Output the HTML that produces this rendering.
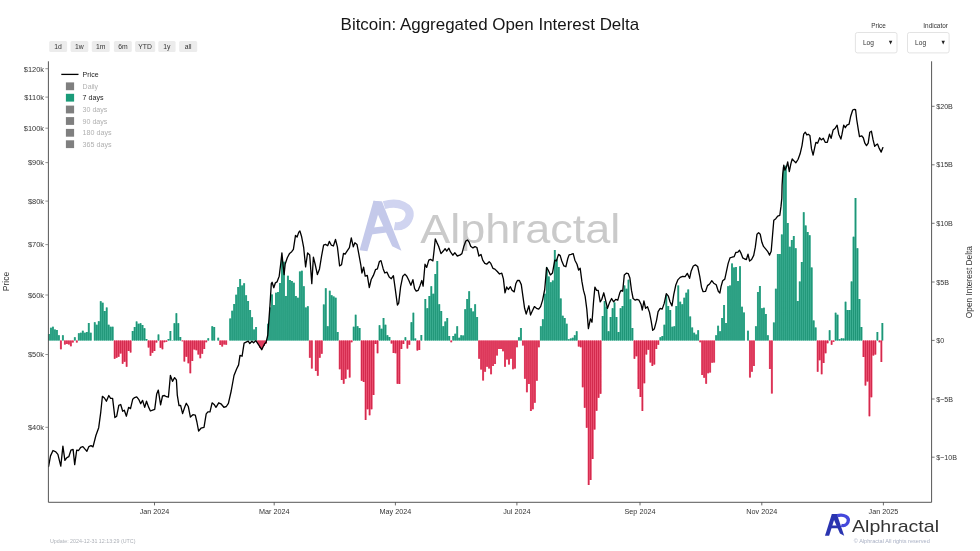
<!DOCTYPE html><html><head><meta charset="utf-8"><title>Bitcoin: Aggregated Open Interest Delta</title>
<style>html,body{margin:0;padding:0;background:#fff;}svg{display:block}text{font-family:"Liberation Sans",sans-serif}</style></head><body>
<div style="width:980px;height:551px;will-change:transform;opacity:0.999">
<svg width="980" height="551" viewBox="0 0 980 551">
<text x="340.6" y="30.4" font-size="17" fill="#161616" textLength="298.6" lengthAdjust="spacingAndGlyphs">Bitcoin: Aggregated Open Interest Delta</text>
<rect x="49.2" y="40.9" width="17.9" height="11" rx="1.5" fill="#ececec"/>
<text transform="translate(58.1 48.7) scale(0.91 1)" font-size="7.5" fill="#333" text-anchor="middle">1d</text>
<rect x="70.6" y="40.9" width="17.7" height="11" rx="1.5" fill="#ececec"/>
<text transform="translate(79.4 48.7) scale(0.91 1)" font-size="7.5" fill="#333" text-anchor="middle">1w</text>
<rect x="91.8" y="40.9" width="17.9" height="11" rx="1.5" fill="#ececec"/>
<text transform="translate(100.8 48.7) scale(0.91 1)" font-size="7.5" fill="#333" text-anchor="middle">1m</text>
<rect x="113.9" y="40.9" width="17.9" height="11" rx="1.5" fill="#ececec"/>
<text transform="translate(122.9 48.7) scale(0.91 1)" font-size="7.5" fill="#333" text-anchor="middle">6m</text>
<rect x="135.1" y="40.9" width="20.1" height="11" rx="1.5" fill="#ececec"/>
<text transform="translate(145.1 48.7) scale(0.91 1)" font-size="7.5" fill="#333" text-anchor="middle">YTD</text>
<rect x="158.3" y="40.9" width="17.3" height="11" rx="1.5" fill="#ececec"/>
<text transform="translate(166.9 48.7) scale(0.91 1)" font-size="7.5" fill="#333" text-anchor="middle">1y</text>
<rect x="179.2" y="40.9" width="18.0" height="11" rx="1.5" fill="#ececec"/>
<text transform="translate(188.2 48.7) scale(0.91 1)" font-size="7.5" fill="#333" text-anchor="middle">all</text>
<text x="878.6" y="27.6" font-size="6.4" fill="#333" text-anchor="middle">Price</text>
<text x="935.6" y="27.6" font-size="6.4" fill="#333" text-anchor="middle">Indicator</text>
<rect x="855.4" y="32.5" width="41.6" height="20.4" rx="2" fill="#fff" stroke="#dcdcdc" stroke-width="0.8"/>
<text x="862.9" y="44.9" font-size="6.6" fill="#333">Log</text>
<path d="M888.9 40.8h3.4l-1.7 3.6z" fill="#222"/>
<rect x="907.5" y="32.5" width="41.6" height="20.4" rx="2" fill="#fff" stroke="#dcdcdc" stroke-width="0.8"/>
<text x="915.1" y="44.9" font-size="6.6" fill="#333">Log</text>
<path d="M941.5 40.8h3.4l-1.7 3.6z" fill="#222"/>
<g transform="translate(350 190) scale(0.127)"><path d="M268 120C380 84 492 132 466 215C446 275 400 292 350 284" stroke="#d0d4f0" stroke-width="64" fill="none"/><path d="M75 475L137 482L250 92L185 85Z" fill="#c4c9ea"/><path d="M185 85L252 90L405 478L332 442L212 175Z" fill="#c4c9ea"/><path d="M168 298L268 285L288 335L150 352Z" fill="#c4c9ea"/></g>
<text x="420.3" y="242.8" font-size="40.5" fill="#cacaca" textLength="200" lengthAdjust="spacingAndGlyphs">Alphractal</text>
<path d="M47.95 333.98h1.99v6.62h-1.99zM49.95 327.78h1.99v12.82h-1.99zM51.94 326.63h1.99v13.97h-1.99zM53.93 329.41h1.99v11.19h-1.99zM55.92 329.90h1.99v10.70h-1.99zM57.91 335.29h1.99v5.31h-1.99zM61.90 335.29h1.99v5.31h-1.99zM73.84 337.24h1.99v3.36h-1.99zM77.83 333.33h1.99v7.27h-1.99zM79.82 332.84h1.99v7.76h-1.99zM81.81 330.71h1.99v9.89h-1.99zM83.80 332.84h1.99v7.76h-1.99zM85.79 332.02h1.99v8.58h-1.99zM87.78 323.04h1.99v17.56h-1.99zM89.78 332.67h1.99v7.93h-1.99zM93.76 322.22h1.99v18.38h-1.99zM95.75 324.67h1.99v15.93h-1.99zM97.74 321.24h1.99v19.36h-1.99zM99.73 301.33h1.99v39.27h-1.99zM101.73 302.63h1.99v37.97h-1.99zM103.72 311.12h1.99v29.48h-1.99zM105.71 307.53h1.99v33.07h-1.99zM107.70 324.67h1.99v15.93h-1.99zM109.69 326.63h1.99v13.97h-1.99zM111.68 326.63h1.99v13.97h-1.99zM131.60 331.04h1.99v9.56h-1.99zM133.59 327.12h1.99v13.48h-1.99zM135.58 321.41h1.99v19.19h-1.99zM137.57 323.69h1.99v16.91h-1.99zM139.56 323.37h1.99v17.23h-1.99zM141.56 325.00h1.99v15.60h-1.99zM143.55 328.27h1.99v12.33h-1.99zM145.54 338.88h1.99v1.72h-1.99zM157.49 334.47h1.99v6.13h-1.99zM167.44 338.88h1.99v1.72h-1.99zM169.44 331.04h1.99v9.56h-1.99zM171.43 340.18h1.99v0.42h-1.99zM173.42 323.37h1.99v17.23h-1.99zM175.41 313.24h1.99v27.36h-1.99zM177.40 323.37h1.99v17.23h-1.99zM179.39 336.92h1.99v3.68h-1.99zM207.27 338.20h1.99v2.40h-1.99zM211.26 326.29h1.99v14.31h-1.99zM213.25 327.10h1.99v13.50h-1.99zM217.23 337.71h1.99v2.89h-1.99zM229.18 318.61h1.99v21.99h-1.99zM231.17 310.78h1.99v29.82h-1.99zM233.16 303.92h1.99v36.68h-1.99zM235.16 294.78h1.99v45.82h-1.99zM237.15 287.10h1.99v53.50h-1.99zM239.14 278.94h1.99v61.66h-1.99zM241.13 285.47h1.99v55.13h-1.99zM243.12 283.35h1.99v57.25h-1.99zM245.11 295.27h1.99v45.33h-1.99zM247.10 300.98h1.99v39.62h-1.99zM249.10 309.96h1.99v30.64h-1.99zM251.09 317.31h1.99v23.29h-1.99zM253.08 329.55h1.99v11.05h-1.99zM255.07 327.10h1.99v13.50h-1.99zM267.02 323.84h1.99v16.76h-1.99zM269.01 307.51h1.99v33.09h-1.99zM271.00 294.45h1.99v46.15h-1.99zM272.99 305.06h1.99v35.54h-1.99zM274.99 292.82h1.99v47.78h-1.99zM276.98 292.00h1.99v48.60h-1.99zM278.97 283.02h1.99v57.58h-1.99zM280.96 259.35h1.99v81.25h-1.99zM282.95 261.80h1.99v78.80h-1.99zM284.94 296.08h1.99v44.52h-1.99zM286.93 275.67h1.99v64.93h-1.99zM288.93 280.08h1.99v60.52h-1.99zM290.92 281.06h1.99v59.54h-1.99zM292.91 282.69h1.99v57.91h-1.99zM294.90 296.08h1.99v44.52h-1.99zM296.89 297.71h1.99v42.89h-1.99zM298.88 271.59h1.99v69.01h-1.99zM300.88 270.78h1.99v69.82h-1.99zM302.87 286.29h1.99v54.31h-1.99zM304.86 307.51h1.99v33.09h-1.99zM306.85 306.20h1.99v34.40h-1.99zM322.78 304.57h1.99v36.03h-1.99zM324.77 288.24h1.99v52.36h-1.99zM326.76 326.29h1.99v14.31h-1.99zM328.76 290.86h1.99v49.74h-1.99zM330.75 295.27h1.99v45.33h-1.99zM332.74 296.41h1.99v44.19h-1.99zM334.73 297.71h1.99v42.89h-1.99zM336.72 332.00h1.99v8.60h-1.99zM352.65 326.78h1.99v13.82h-1.99zM354.65 314.86h1.99v25.74h-1.99zM356.64 326.29h1.99v14.31h-1.99zM358.63 327.92h1.99v12.68h-1.99zM378.54 325.14h1.99v15.46h-1.99zM380.54 328.73h1.99v11.87h-1.99zM382.53 318.12h1.99v22.48h-1.99zM384.52 324.65h1.99v15.95h-1.99zM386.51 335.27h1.99v5.33h-1.99zM388.50 336.90h1.99v3.70h-1.99zM404.43 337.22h1.99v3.38h-1.99zM410.41 322.20h1.99v18.40h-1.99zM412.40 312.73h1.99v27.87h-1.99zM414.39 338.53h1.99v2.07h-1.99zM420.37 334.94h1.99v5.66h-1.99zM424.35 299.02h1.99v41.58h-1.99zM426.34 308.33h1.99v32.27h-1.99zM428.33 296.08h1.99v44.52h-1.99zM430.32 286.29h1.99v54.31h-1.99zM432.31 293.63h1.99v46.97h-1.99zM434.31 274.04h1.99v66.56h-1.99zM436.30 260.98h1.99v79.62h-1.99zM438.29 304.24h1.99v36.36h-1.99zM440.28 311.10h1.99v29.50h-1.99zM442.27 326.29h1.99v14.31h-1.99zM444.26 321.39h1.99v19.21h-1.99zM446.25 318.12h1.99v22.48h-1.99zM448.25 336.08h1.99v4.52h-1.99zM452.23 336.08h1.99v4.52h-1.99zM454.22 333.63h1.99v6.97h-1.99zM456.21 326.29h1.99v14.31h-1.99zM458.20 337.71h1.99v2.89h-1.99zM460.20 335.27h1.99v5.33h-1.99zM462.19 335.59h1.99v5.01h-1.99zM464.18 309.14h1.99v31.46h-1.99zM466.17 299.02h1.99v41.58h-1.99zM468.16 291.18h1.99v49.42h-1.99zM470.15 308.33h1.99v32.27h-1.99zM472.14 311.59h1.99v29.01h-1.99zM474.14 304.24h1.99v36.36h-1.99zM476.13 316.98h1.99v23.62h-1.99zM517.95 337.22h1.99v3.38h-1.99zM519.94 327.92h1.99v12.68h-1.99zM539.86 326.29h1.99v14.31h-1.99zM541.85 319.27h1.99v21.33h-1.99zM543.84 293.63h1.99v46.97h-1.99zM545.83 267.51h1.99v73.09h-1.99zM547.82 276.49h1.99v64.11h-1.99zM549.81 282.20h1.99v58.40h-1.99zM551.80 280.57h1.99v60.03h-1.99zM553.80 250.04h1.99v90.56h-1.99zM555.79 259.35h1.99v81.25h-1.99zM557.78 267.02h1.99v73.58h-1.99zM559.77 298.53h1.99v42.07h-1.99zM561.76 315.67h1.99v24.93h-1.99zM563.75 318.12h1.99v22.48h-1.99zM565.74 323.84h1.99v16.76h-1.99zM567.74 339.35h1.99v1.25h-1.99zM569.73 338.53h1.99v2.07h-1.99zM571.72 337.71h1.99v2.89h-1.99zM573.71 335.27h1.99v5.33h-1.99zM575.70 331.18h1.99v9.42h-1.99zM601.59 316.00h1.99v24.60h-1.99zM603.58 300.98h1.99v39.62h-1.99zM605.57 306.69h1.99v33.91h-1.99zM607.57 331.18h1.99v9.42h-1.99zM609.56 316.98h1.99v23.62h-1.99zM611.55 308.33h1.99v32.27h-1.99zM613.54 302.61h1.99v37.99h-1.99zM615.53 316.98h1.99v23.62h-1.99zM617.52 332.00h1.99v8.60h-1.99zM619.52 308.33h1.99v32.27h-1.99zM621.51 305.88h1.99v34.72h-1.99zM623.50 285.47h1.99v55.13h-1.99zM625.49 288.73h1.99v51.87h-1.99zM627.48 279.76h1.99v60.84h-1.99zM629.47 299.35h1.99v41.25h-1.99zM631.46 327.92h1.99v12.68h-1.99zM659.35 337.22h1.99v3.38h-1.99zM661.34 336.08h1.99v4.52h-1.99zM663.33 324.65h1.99v15.95h-1.99zM665.32 295.27h1.99v45.33h-1.99zM667.31 305.88h1.99v34.72h-1.99zM669.30 309.96h1.99v30.64h-1.99zM671.29 326.78h1.99v13.82h-1.99zM673.29 326.29h1.99v14.31h-1.99zM675.28 305.88h1.99v34.72h-1.99zM677.27 285.47h1.99v55.13h-1.99zM679.26 301.80h1.99v38.80h-1.99zM681.25 304.24h1.99v36.36h-1.99zM683.24 297.71h1.99v42.89h-1.99zM685.23 292.82h1.99v47.78h-1.99zM687.23 289.55h1.99v51.05h-1.99zM689.22 316.49h1.99v24.11h-1.99zM691.21 327.43h1.99v13.17h-1.99zM693.20 332.82h1.99v7.78h-1.99zM695.19 334.45h1.99v6.15h-1.99zM697.18 330.37h1.99v10.23h-1.99zM715.11 335.27h1.99v5.33h-1.99zM717.10 325.80h1.99v14.80h-1.99zM719.09 331.18h1.99v9.42h-1.99zM721.08 318.12h1.99v22.48h-1.99zM723.07 305.06h1.99v35.54h-1.99zM725.06 323.02h1.99v17.58h-1.99zM727.06 286.29h1.99v54.31h-1.99zM729.05 285.47h1.99v55.13h-1.99zM731.04 263.43h1.99v77.17h-1.99zM733.03 267.51h1.99v73.09h-1.99zM735.02 267.02h1.99v73.58h-1.99zM737.01 281.06h1.99v59.54h-1.99zM739.01 266.37h1.99v74.23h-1.99zM741.00 306.69h1.99v33.91h-1.99zM742.99 312.41h1.99v28.19h-1.99zM746.97 330.69h1.99v9.91h-1.99zM754.94 326.29h1.99v14.31h-1.99zM756.93 292.00h1.99v48.60h-1.99zM758.92 285.96h1.99v54.64h-1.99zM760.91 308.33h1.99v32.27h-1.99zM762.90 307.84h1.99v32.76h-1.99zM764.89 314.04h1.99v26.56h-1.99zM766.89 335.27h1.99v5.33h-1.99zM772.86 322.53h1.99v18.07h-1.99zM774.85 288.73h1.99v51.87h-1.99zM776.84 253.98h1.99v86.62h-1.99zM778.84 253.98h1.99v86.62h-1.99zM780.83 234.39h1.99v106.21h-1.99zM782.82 166.96h1.99v173.64h-1.99zM784.81 165.82h1.99v174.78h-1.99zM786.80 222.96h1.99v117.64h-1.99zM788.79 246.63h1.99v93.97h-1.99zM790.78 240.10h1.99v100.50h-1.99zM792.78 236.02h1.99v104.58h-1.99zM794.77 248.27h1.99v92.33h-1.99zM796.76 300.98h1.99v39.62h-1.99zM798.75 281.39h1.99v59.21h-1.99zM800.74 262.12h1.99v78.48h-1.99zM802.73 212.35h1.99v128.25h-1.99zM804.72 225.41h1.99v115.19h-1.99zM806.72 231.94h1.99v108.66h-1.99zM808.71 235.20h1.99v105.40h-1.99zM810.70 267.51h1.99v73.09h-1.99zM812.69 320.57h1.99v20.03h-1.99zM814.68 327.43h1.99v13.17h-1.99zM828.62 330.37h1.99v10.23h-1.99zM834.60 312.73h1.99v27.87h-1.99zM836.59 314.86h1.99v25.74h-1.99zM838.58 339.35h1.99v1.25h-1.99zM840.57 338.20h1.99v2.40h-1.99zM842.56 338.53h1.99v2.07h-1.99zM844.55 301.80h1.99v38.80h-1.99zM846.55 309.96h1.99v30.64h-1.99zM848.54 309.96h1.99v30.64h-1.99zM850.53 281.39h1.99v59.21h-1.99zM852.52 236.84h1.99v103.76h-1.99zM854.51 197.98h1.99v142.62h-1.99zM856.50 248.27h1.99v92.33h-1.99zM858.50 299.02h1.99v41.58h-1.99zM860.49 327.10h1.99v13.50h-1.99zM876.42 332.00h1.99v8.60h-1.99zM881.39 323.02h1.99v17.58h-1.99z" fill="#45b59a"/>
<path d="M48.35 333.98h1.20v6.62h-1.20zM50.34 327.78h1.20v12.82h-1.20zM52.33 326.63h1.20v13.97h-1.20zM54.32 329.41h1.20v11.19h-1.20zM56.32 329.90h1.20v10.70h-1.20zM58.31 335.29h1.20v5.31h-1.20zM62.29 335.29h1.20v5.31h-1.20zM74.24 337.24h1.20v3.36h-1.20zM78.22 333.33h1.20v7.27h-1.20zM80.21 332.84h1.20v7.76h-1.20zM82.21 330.71h1.20v9.89h-1.20zM84.20 332.84h1.20v7.76h-1.20zM86.19 332.02h1.20v8.58h-1.20zM88.18 323.04h1.20v17.56h-1.20zM90.17 332.67h1.20v7.93h-1.20zM94.16 322.22h1.20v18.38h-1.20zM96.15 324.67h1.20v15.93h-1.20zM98.14 321.24h1.20v19.36h-1.20zM100.13 301.33h1.20v39.27h-1.20zM102.12 302.63h1.20v37.97h-1.20zM104.11 311.12h1.20v29.48h-1.20zM106.10 307.53h1.20v33.07h-1.20zM108.10 324.67h1.20v15.93h-1.20zM110.09 326.63h1.20v13.97h-1.20zM112.08 326.63h1.20v13.97h-1.20zM131.99 331.04h1.20v9.56h-1.20zM133.99 327.12h1.20v13.48h-1.20zM135.98 321.41h1.20v19.19h-1.20zM137.97 323.69h1.20v16.91h-1.20zM139.96 323.37h1.20v17.23h-1.20zM141.95 325.00h1.20v15.60h-1.20zM143.94 328.27h1.20v12.33h-1.20zM145.93 338.88h1.20v1.72h-1.20zM157.88 334.47h1.20v6.13h-1.20zM167.84 338.88h1.20v1.72h-1.20zM169.83 331.04h1.20v9.56h-1.20zM171.82 340.18h1.20v0.42h-1.20zM173.81 323.37h1.20v17.23h-1.20zM175.81 313.24h1.20v27.36h-1.20zM177.80 323.37h1.20v17.23h-1.20zM179.79 336.92h1.20v3.68h-1.20zM207.67 338.20h1.20v2.40h-1.20zM211.65 326.29h1.20v14.31h-1.20zM213.65 327.10h1.20v13.50h-1.20zM217.63 337.71h1.20v2.89h-1.20zM229.58 318.61h1.20v21.99h-1.20zM231.57 310.78h1.20v29.82h-1.20zM233.56 303.92h1.20v36.68h-1.20zM235.55 294.78h1.20v45.82h-1.20zM237.54 287.10h1.20v53.50h-1.20zM239.53 278.94h1.20v61.66h-1.20zM241.53 285.47h1.20v55.13h-1.20zM243.52 283.35h1.20v57.25h-1.20zM245.51 295.27h1.20v45.33h-1.20zM247.50 300.98h1.20v39.62h-1.20zM249.49 309.96h1.20v30.64h-1.20zM251.48 317.31h1.20v23.29h-1.20zM253.47 329.55h1.20v11.05h-1.20zM255.47 327.10h1.20v13.50h-1.20zM267.42 323.84h1.20v16.76h-1.20zM269.41 307.51h1.20v33.09h-1.20zM271.40 294.45h1.20v46.15h-1.20zM273.39 305.06h1.20v35.54h-1.20zM275.38 292.82h1.20v47.78h-1.20zM277.37 292.00h1.20v48.60h-1.20zM279.36 283.02h1.20v57.58h-1.20zM281.36 259.35h1.20v81.25h-1.20zM283.35 261.80h1.20v78.80h-1.20zM285.34 296.08h1.20v44.52h-1.20zM287.33 275.67h1.20v64.93h-1.20zM289.32 280.08h1.20v60.52h-1.20zM291.31 281.06h1.20v59.54h-1.20zM293.30 282.69h1.20v57.91h-1.20zM295.30 296.08h1.20v44.52h-1.20zM297.29 297.71h1.20v42.89h-1.20zM299.28 271.59h1.20v69.01h-1.20zM301.27 270.78h1.20v69.82h-1.20zM303.26 286.29h1.20v54.31h-1.20zM305.25 307.51h1.20v33.09h-1.20zM307.25 306.20h1.20v34.40h-1.20zM323.18 304.57h1.20v36.03h-1.20zM325.17 288.24h1.20v52.36h-1.20zM327.16 326.29h1.20v14.31h-1.20zM329.15 290.86h1.20v49.74h-1.20zM331.14 295.27h1.20v45.33h-1.20zM333.13 296.41h1.20v44.19h-1.20zM335.13 297.71h1.20v42.89h-1.20zM337.12 332.00h1.20v8.60h-1.20zM353.05 326.78h1.20v13.82h-1.20zM355.04 314.86h1.20v25.74h-1.20zM357.03 326.29h1.20v14.31h-1.20zM359.02 327.92h1.20v12.68h-1.20zM378.94 325.14h1.20v15.46h-1.20zM380.93 328.73h1.20v11.87h-1.20zM382.92 318.12h1.20v22.48h-1.20zM384.91 324.65h1.20v15.95h-1.20zM386.91 335.27h1.20v5.33h-1.20zM388.90 336.90h1.20v3.70h-1.20zM404.83 337.22h1.20v3.38h-1.20zM410.80 322.20h1.20v18.40h-1.20zM412.79 312.73h1.20v27.87h-1.20zM414.79 338.53h1.20v2.07h-1.20zM420.76 334.94h1.20v5.66h-1.20zM424.74 299.02h1.20v41.58h-1.20zM426.74 308.33h1.20v32.27h-1.20zM428.73 296.08h1.20v44.52h-1.20zM430.72 286.29h1.20v54.31h-1.20zM432.71 293.63h1.20v46.97h-1.20zM434.70 274.04h1.20v66.56h-1.20zM436.69 260.98h1.20v79.62h-1.20zM438.68 304.24h1.20v36.36h-1.20zM440.68 311.10h1.20v29.50h-1.20zM442.67 326.29h1.20v14.31h-1.20zM444.66 321.39h1.20v19.21h-1.20zM446.65 318.12h1.20v22.48h-1.20zM448.64 336.08h1.20v4.52h-1.20zM452.62 336.08h1.20v4.52h-1.20zM454.62 333.63h1.20v6.97h-1.20zM456.61 326.29h1.20v14.31h-1.20zM458.60 337.71h1.20v2.89h-1.20zM460.59 335.27h1.20v5.33h-1.20zM462.58 335.59h1.20v5.01h-1.20zM464.57 309.14h1.20v31.46h-1.20zM466.57 299.02h1.20v41.58h-1.20zM468.56 291.18h1.20v49.42h-1.20zM470.55 308.33h1.20v32.27h-1.20zM472.54 311.59h1.20v29.01h-1.20zM474.53 304.24h1.20v36.36h-1.20zM476.52 316.98h1.20v23.62h-1.20zM518.34 337.22h1.20v3.38h-1.20zM520.34 327.92h1.20v12.68h-1.20zM540.25 326.29h1.20v14.31h-1.20zM542.24 319.27h1.20v21.33h-1.20zM544.23 293.63h1.20v46.97h-1.20zM546.23 267.51h1.20v73.09h-1.20zM548.22 276.49h1.20v64.11h-1.20zM550.21 282.20h1.20v58.40h-1.20zM552.20 280.57h1.20v60.03h-1.20zM554.19 250.04h1.20v90.56h-1.20zM556.18 259.35h1.20v81.25h-1.20zM558.17 267.02h1.20v73.58h-1.20zM560.17 298.53h1.20v42.07h-1.20zM562.16 315.67h1.20v24.93h-1.20zM564.15 318.12h1.20v22.48h-1.20zM566.14 323.84h1.20v16.76h-1.20zM568.13 339.35h1.20v1.25h-1.20zM570.12 338.53h1.20v2.07h-1.20zM572.12 337.71h1.20v2.89h-1.20zM574.11 335.27h1.20v5.33h-1.20zM576.10 331.18h1.20v9.42h-1.20zM601.99 316.00h1.20v24.60h-1.20zM603.98 300.98h1.20v39.62h-1.20zM605.97 306.69h1.20v33.91h-1.20zM607.96 331.18h1.20v9.42h-1.20zM609.95 316.98h1.20v23.62h-1.20zM611.95 308.33h1.20v32.27h-1.20zM613.94 302.61h1.20v37.99h-1.20zM615.93 316.98h1.20v23.62h-1.20zM617.92 332.00h1.20v8.60h-1.20zM619.91 308.33h1.20v32.27h-1.20zM621.90 305.88h1.20v34.72h-1.20zM623.89 285.47h1.20v55.13h-1.20zM625.89 288.73h1.20v51.87h-1.20zM627.88 279.76h1.20v60.84h-1.20zM629.87 299.35h1.20v41.25h-1.20zM631.86 327.92h1.20v12.68h-1.20zM659.74 337.22h1.20v3.38h-1.20zM661.73 336.08h1.20v4.52h-1.20zM663.72 324.65h1.20v15.95h-1.20zM665.72 295.27h1.20v45.33h-1.20zM667.71 305.88h1.20v34.72h-1.20zM669.70 309.96h1.20v30.64h-1.20zM671.69 326.78h1.20v13.82h-1.20zM673.68 326.29h1.20v14.31h-1.20zM675.67 305.88h1.20v34.72h-1.20zM677.66 285.47h1.20v55.13h-1.20zM679.66 301.80h1.20v38.80h-1.20zM681.65 304.24h1.20v36.36h-1.20zM683.64 297.71h1.20v42.89h-1.20zM685.63 292.82h1.20v47.78h-1.20zM687.62 289.55h1.20v51.05h-1.20zM689.61 316.49h1.20v24.11h-1.20zM691.61 327.43h1.20v13.17h-1.20zM693.60 332.82h1.20v7.78h-1.20zM695.59 334.45h1.20v6.15h-1.20zM697.58 330.37h1.20v10.23h-1.20zM715.50 335.27h1.20v5.33h-1.20zM717.49 325.80h1.20v14.80h-1.20zM719.49 331.18h1.20v9.42h-1.20zM721.48 318.12h1.20v22.48h-1.20zM723.47 305.06h1.20v35.54h-1.20zM725.46 323.02h1.20v17.58h-1.20zM727.45 286.29h1.20v54.31h-1.20zM729.44 285.47h1.20v55.13h-1.20zM731.43 263.43h1.20v77.17h-1.20zM733.43 267.51h1.20v73.09h-1.20zM735.42 267.02h1.20v73.58h-1.20zM737.41 281.06h1.20v59.54h-1.20zM739.40 266.37h1.20v74.23h-1.20zM741.39 306.69h1.20v33.91h-1.20zM743.38 312.41h1.20v28.19h-1.20zM747.37 330.69h1.20v9.91h-1.20zM755.33 326.29h1.20v14.31h-1.20zM757.32 292.00h1.20v48.60h-1.20zM759.32 285.96h1.20v54.64h-1.20zM761.31 308.33h1.20v32.27h-1.20zM763.30 307.84h1.20v32.76h-1.20zM765.29 314.04h1.20v26.56h-1.20zM767.28 335.27h1.20v5.33h-1.20zM773.26 322.53h1.20v18.07h-1.20zM775.25 288.73h1.20v51.87h-1.20zM777.24 253.98h1.20v86.62h-1.20zM779.23 253.98h1.20v86.62h-1.20zM781.22 234.39h1.20v106.21h-1.20zM783.21 166.96h1.20v173.64h-1.20zM785.21 165.82h1.20v174.78h-1.20zM787.20 222.96h1.20v117.64h-1.20zM789.19 246.63h1.20v93.97h-1.20zM791.18 240.10h1.20v100.50h-1.20zM793.17 236.02h1.20v104.58h-1.20zM795.16 248.27h1.20v92.33h-1.20zM797.15 300.98h1.20v39.62h-1.20zM799.15 281.39h1.20v59.21h-1.20zM801.14 262.12h1.20v78.48h-1.20zM803.13 212.35h1.20v128.25h-1.20zM805.12 225.41h1.20v115.19h-1.20zM807.11 231.94h1.20v108.66h-1.20zM809.10 235.20h1.20v105.40h-1.20zM811.10 267.51h1.20v73.09h-1.20zM813.09 320.57h1.20v20.03h-1.20zM815.08 327.43h1.20v13.17h-1.20zM829.02 330.37h1.20v10.23h-1.20zM834.99 312.73h1.20v27.87h-1.20zM836.98 314.86h1.20v25.74h-1.20zM838.98 339.35h1.20v1.25h-1.20zM840.97 338.20h1.20v2.40h-1.20zM842.96 338.53h1.20v2.07h-1.20zM844.95 301.80h1.20v38.80h-1.20zM846.94 309.96h1.20v30.64h-1.20zM848.93 309.96h1.20v30.64h-1.20zM850.92 281.39h1.20v59.21h-1.20zM852.92 236.84h1.20v103.76h-1.20zM854.91 197.98h1.20v142.62h-1.20zM856.90 248.27h1.20v92.33h-1.20zM858.89 299.02h1.20v41.58h-1.20zM860.88 327.10h1.20v13.50h-1.20zM876.81 332.00h1.20v8.60h-1.20zM881.79 323.02h1.20v17.58h-1.20z" fill="#1f9577"/>
<path d="M59.90 340.60h1.99v8.56h-1.99zM63.89 340.60h1.99v3.99h-1.99zM65.88 340.60h1.99v3.50h-1.99zM67.87 340.60h1.99v3.99h-1.99zM69.86 340.60h1.99v5.62h-1.99zM71.85 340.60h1.99v1.87h-1.99zM75.84 340.60h1.99v1.87h-1.99zM113.67 340.60h1.99v18.20h-1.99zM115.67 340.60h1.99v17.05h-1.99zM117.66 340.60h1.99v16.24h-1.99zM119.65 340.60h1.99v12.97h-1.99zM121.64 340.60h1.99v23.26h-1.99zM123.63 340.60h1.99v21.13h-1.99zM125.62 340.60h1.99v26.03h-1.99zM127.61 340.60h1.99v10.52h-1.99zM129.61 340.60h1.99v11.83h-1.99zM147.53 340.60h1.99v6.93h-1.99zM149.52 340.60h1.99v15.09h-1.99zM151.51 340.60h1.99v12.16h-1.99zM153.50 340.60h1.99v10.52h-1.99zM155.50 340.60h1.99v1.87h-1.99zM159.48 340.60h1.99v7.26h-1.99zM161.47 340.60h1.99v8.56h-1.99zM163.46 340.60h1.99v1.54h-1.99zM165.45 340.60h1.99v1.22h-1.99zM181.39 340.60h1.99v0.73h-1.99zM183.38 340.60h1.99v20.81h-1.99zM185.37 340.60h1.99v16.24h-1.99zM187.36 340.60h1.99v22.77h-1.99zM189.35 340.60h1.99v32.56h-1.99zM191.34 340.60h1.99v20.32h-1.99zM193.33 340.60h1.99v8.89h-1.99zM195.33 340.60h1.99v9.71h-1.99zM197.32 340.60h1.99v13.79h-1.99zM199.31 340.60h1.99v17.58h-1.99zM201.30 340.60h1.99v13.18h-1.99zM203.29 340.60h1.99v8.28h-1.99zM205.28 340.60h1.99v1.75h-1.99zM219.22 340.60h1.99v4.52h-1.99zM221.22 340.60h1.99v5.83h-1.99zM223.21 340.60h1.99v3.87h-1.99zM225.20 340.60h1.99v4.20h-1.99zM257.06 340.60h1.99v3.38h-1.99zM259.05 340.60h1.99v7.13h-1.99zM261.05 340.60h1.99v8.77h-1.99zM263.04 340.60h1.99v5.50h-1.99zM265.03 340.60h1.99v2.89h-1.99zM308.84 340.60h1.99v17.26h-1.99zM310.83 340.60h1.99v27.87h-1.99zM314.82 340.60h1.99v30.32h-1.99zM316.81 340.60h1.99v35.22h-1.99zM318.80 340.60h1.99v17.26h-1.99zM320.79 340.60h1.99v13.18h-1.99zM338.71 340.60h1.99v28.69h-1.99zM340.71 340.60h1.99v39.30h-1.99zM342.70 340.60h1.99v43.05h-1.99zM344.69 340.60h1.99v38.16h-1.99zM346.68 340.60h1.99v29.01h-1.99zM348.67 340.60h1.99v36.85h-1.99zM350.66 340.60h1.99v1.75h-1.99zM360.62 340.60h1.99v40.11h-1.99zM362.61 340.60h1.99v41.42h-1.99zM364.60 340.60h1.99v79.30h-1.99zM366.59 340.60h1.99v68.69h-1.99zM368.59 340.60h1.99v74.73h-1.99zM370.58 340.60h1.99v68.69h-1.99zM372.57 340.60h1.99v54.48h-1.99zM374.56 340.60h1.99v3.38h-1.99zM376.55 340.60h1.99v12.69h-1.99zM390.49 340.60h1.99v2.89h-1.99zM392.48 340.60h1.99v12.36h-1.99zM394.48 340.60h1.99v12.69h-1.99zM396.47 340.60h1.99v43.05h-1.99zM398.46 340.60h1.99v43.38h-1.99zM400.45 340.60h1.99v8.28h-1.99zM402.44 340.60h1.99v3.38h-1.99zM406.42 340.60h1.99v7.79h-1.99zM408.42 340.60h1.99v4.20h-1.99zM416.38 340.60h1.99v9.91h-1.99zM418.37 340.60h1.99v9.42h-1.99zM450.24 340.60h1.99v1.75h-1.99zM478.12 340.60h1.99v18.07h-1.99zM480.11 340.60h1.99v29.01h-1.99zM482.10 340.60h1.99v39.79h-1.99zM484.09 340.60h1.99v31.13h-1.99zM486.08 340.60h1.99v26.24h-1.99zM488.08 340.60h1.99v27.87h-1.99zM490.07 340.60h1.99v33.58h-1.99zM492.06 340.60h1.99v25.42h-1.99zM494.05 340.60h1.99v23.46h-1.99zM496.04 340.60h1.99v14.81h-1.99zM498.03 340.60h1.99v8.28h-1.99zM500.03 340.60h1.99v8.28h-1.99zM502.02 340.60h1.99v10.73h-1.99zM504.01 340.60h1.99v26.24h-1.99zM506.00 340.60h1.99v18.89h-1.99zM507.99 340.60h1.99v23.79h-1.99zM509.98 340.60h1.99v18.07h-1.99zM511.97 340.60h1.99v28.69h-1.99zM513.97 340.60h1.99v27.87h-1.99zM515.96 340.60h1.99v6.64h-1.99zM521.93 340.60h1.99v5.01h-1.99zM523.92 340.60h1.99v38.16h-1.99zM525.91 340.60h1.99v51.54h-1.99zM527.91 340.60h1.99v43.38h-1.99zM529.90 340.60h1.99v70.32h-1.99zM531.89 340.60h1.99v68.69h-1.99zM533.88 340.60h1.99v62.16h-1.99zM535.87 340.60h1.99v40.11h-1.99zM537.86 340.60h1.99v6.64h-1.99zM577.69 340.60h1.99v5.83h-1.99zM579.69 340.60h1.99v6.64h-1.99zM581.68 340.60h1.99v46.64h-1.99zM583.67 340.60h1.99v67.05h-1.99zM585.66 340.60h1.99v87.26h-1.99zM587.65 340.60h1.99v144.40h-1.99zM589.64 340.60h1.99v139.50h-1.99zM591.63 340.60h1.99v118.28h-1.99zM593.63 340.60h1.99v88.89h-1.99zM595.62 340.60h1.99v70.11h-1.99zM597.61 340.60h1.99v57.26h-1.99zM599.60 340.60h1.99v53.18h-1.99zM633.46 340.60h1.99v18.07h-1.99zM635.45 340.60h1.99v15.62h-1.99zM637.44 340.60h1.99v48.28h-1.99zM639.43 340.60h1.99v56.44h-1.99zM641.42 340.60h1.99v70.32h-1.99zM643.41 340.60h1.99v42.56h-1.99zM645.40 340.60h1.99v13.99h-1.99zM647.40 340.60h1.99v9.09h-1.99zM649.39 340.60h1.99v21.83h-1.99zM651.38 340.60h1.99v25.42h-1.99zM653.37 340.60h1.99v23.79h-1.99zM655.36 340.60h1.99v8.28h-1.99zM657.35 340.60h1.99v4.20h-1.99zM699.18 340.60h1.99v1.75h-1.99zM701.17 340.60h1.99v34.40h-1.99zM703.16 340.60h1.99v37.18h-1.99zM705.15 340.60h1.99v43.05h-1.99zM707.14 340.60h1.99v32.77h-1.99zM709.13 340.60h1.99v31.95h-1.99zM711.12 340.60h1.99v22.16h-1.99zM713.12 340.60h1.99v21.83h-1.99zM748.96 340.60h1.99v36.85h-1.99zM750.95 340.60h1.99v31.13h-1.99zM752.95 340.60h1.99v25.42h-1.99zM768.88 340.60h1.99v28.36h-1.99zM770.87 340.60h1.99v52.85h-1.99zM816.67 340.60h1.99v31.13h-1.99zM818.67 340.60h1.99v19.71h-1.99zM820.66 340.60h1.99v33.58h-1.99zM822.65 340.60h1.99v22.48h-1.99zM824.64 340.60h1.99v12.69h-1.99zM826.63 340.60h1.99v2.56h-1.99zM830.61 340.60h1.99v4.20h-1.99zM832.61 340.60h1.99v1.26h-1.99zM862.48 340.60h1.99v16.44h-1.99zM864.47 340.60h1.99v45.01h-1.99zM866.46 340.60h1.99v40.93h-1.99zM868.45 340.60h1.99v75.71h-1.99zM870.44 340.60h1.99v56.77h-1.99zM872.44 340.60h1.99v14.81h-1.99zM874.43 340.60h1.99v13.99h-1.99zM878.41 340.60h1.99v1.75h-1.99zM880.40 340.60h1.99v21.34h-1.99z" fill="#f05a7a"/>
<path d="M60.30 340.60h1.20v8.56h-1.20zM64.28 340.60h1.20v3.99h-1.20zM66.27 340.60h1.20v3.50h-1.20zM68.27 340.60h1.20v3.99h-1.20zM70.26 340.60h1.20v5.62h-1.20zM72.25 340.60h1.20v1.87h-1.20zM76.23 340.60h1.20v1.87h-1.20zM114.07 340.60h1.20v18.20h-1.20zM116.06 340.60h1.20v17.05h-1.20zM118.05 340.60h1.20v16.24h-1.20zM120.04 340.60h1.20v12.97h-1.20zM122.04 340.60h1.20v23.26h-1.20zM124.03 340.60h1.20v21.13h-1.20zM126.02 340.60h1.20v26.03h-1.20zM128.01 340.60h1.20v10.52h-1.20zM130.00 340.60h1.20v11.83h-1.20zM147.93 340.60h1.20v6.93h-1.20zM149.92 340.60h1.20v15.09h-1.20zM151.91 340.60h1.20v12.16h-1.20zM153.90 340.60h1.20v10.52h-1.20zM155.89 340.60h1.20v1.87h-1.20zM159.87 340.60h1.20v7.26h-1.20zM161.87 340.60h1.20v8.56h-1.20zM163.86 340.60h1.20v1.54h-1.20zM165.85 340.60h1.20v1.22h-1.20zM181.78 340.60h1.20v0.73h-1.20zM183.77 340.60h1.20v20.81h-1.20zM185.76 340.60h1.20v16.24h-1.20zM187.76 340.60h1.20v22.77h-1.20zM189.75 340.60h1.20v32.56h-1.20zM191.74 340.60h1.20v20.32h-1.20zM193.73 340.60h1.20v8.89h-1.20zM195.72 340.60h1.20v9.71h-1.20zM197.71 340.60h1.20v13.79h-1.20zM199.70 340.60h1.20v17.58h-1.20zM201.70 340.60h1.20v13.18h-1.20zM203.69 340.60h1.20v8.28h-1.20zM205.68 340.60h1.20v1.75h-1.20zM219.62 340.60h1.20v4.52h-1.20zM221.61 340.60h1.20v5.83h-1.20zM223.60 340.60h1.20v3.87h-1.20zM225.59 340.60h1.20v4.20h-1.20zM257.46 340.60h1.20v3.38h-1.20zM259.45 340.60h1.20v7.13h-1.20zM261.44 340.60h1.20v8.77h-1.20zM263.43 340.60h1.20v5.50h-1.20zM265.42 340.60h1.20v2.89h-1.20zM309.24 340.60h1.20v17.26h-1.20zM311.23 340.60h1.20v27.87h-1.20zM315.21 340.60h1.20v30.32h-1.20zM317.20 340.60h1.20v35.22h-1.20zM319.19 340.60h1.20v17.26h-1.20zM321.19 340.60h1.20v13.18h-1.20zM339.11 340.60h1.20v28.69h-1.20zM341.10 340.60h1.20v39.30h-1.20zM343.09 340.60h1.20v43.05h-1.20zM345.08 340.60h1.20v38.16h-1.20zM347.08 340.60h1.20v29.01h-1.20zM349.07 340.60h1.20v36.85h-1.20zM351.06 340.60h1.20v1.75h-1.20zM361.02 340.60h1.20v40.11h-1.20zM363.01 340.60h1.20v41.42h-1.20zM365.00 340.60h1.20v79.30h-1.20zM366.99 340.60h1.20v68.69h-1.20zM368.98 340.60h1.20v74.73h-1.20zM370.97 340.60h1.20v68.69h-1.20zM372.96 340.60h1.20v54.48h-1.20zM374.96 340.60h1.20v3.38h-1.20zM376.95 340.60h1.20v12.69h-1.20zM390.89 340.60h1.20v2.89h-1.20zM392.88 340.60h1.20v12.36h-1.20zM394.87 340.60h1.20v12.69h-1.20zM396.86 340.60h1.20v43.05h-1.20zM398.85 340.60h1.20v43.38h-1.20zM400.85 340.60h1.20v8.28h-1.20zM402.84 340.60h1.20v3.38h-1.20zM406.82 340.60h1.20v7.79h-1.20zM408.81 340.60h1.20v4.20h-1.20zM416.78 340.60h1.20v9.91h-1.20zM418.77 340.60h1.20v9.42h-1.20zM450.63 340.60h1.20v1.75h-1.20zM478.51 340.60h1.20v18.07h-1.20zM480.51 340.60h1.20v29.01h-1.20zM482.50 340.60h1.20v39.79h-1.20zM484.49 340.60h1.20v31.13h-1.20zM486.48 340.60h1.20v26.24h-1.20zM488.47 340.60h1.20v27.87h-1.20zM490.46 340.60h1.20v33.58h-1.20zM492.45 340.60h1.20v25.42h-1.20zM494.45 340.60h1.20v23.46h-1.20zM496.44 340.60h1.20v14.81h-1.20zM498.43 340.60h1.20v8.28h-1.20zM500.42 340.60h1.20v8.28h-1.20zM502.41 340.60h1.20v10.73h-1.20zM504.40 340.60h1.20v26.24h-1.20zM506.40 340.60h1.20v18.89h-1.20zM508.39 340.60h1.20v23.79h-1.20zM510.38 340.60h1.20v18.07h-1.20zM512.37 340.60h1.20v28.69h-1.20zM514.36 340.60h1.20v27.87h-1.20zM516.35 340.60h1.20v6.64h-1.20zM522.33 340.60h1.20v5.01h-1.20zM524.32 340.60h1.20v38.16h-1.20zM526.31 340.60h1.20v51.54h-1.20zM528.30 340.60h1.20v43.38h-1.20zM530.29 340.60h1.20v70.32h-1.20zM532.28 340.60h1.20v68.69h-1.20zM534.28 340.60h1.20v62.16h-1.20zM536.27 340.60h1.20v40.11h-1.20zM538.26 340.60h1.20v6.64h-1.20zM578.09 340.60h1.20v5.83h-1.20zM580.08 340.60h1.20v6.64h-1.20zM582.07 340.60h1.20v46.64h-1.20zM584.06 340.60h1.20v67.05h-1.20zM586.06 340.60h1.20v87.26h-1.20zM588.05 340.60h1.20v144.40h-1.20zM590.04 340.60h1.20v139.50h-1.20zM592.03 340.60h1.20v118.28h-1.20zM594.02 340.60h1.20v88.89h-1.20zM596.01 340.60h1.20v70.11h-1.20zM598.00 340.60h1.20v57.26h-1.20zM600.00 340.60h1.20v53.18h-1.20zM633.85 340.60h1.20v18.07h-1.20zM635.84 340.60h1.20v15.62h-1.20zM637.83 340.60h1.20v48.28h-1.20zM639.83 340.60h1.20v56.44h-1.20zM641.82 340.60h1.20v70.32h-1.20zM643.81 340.60h1.20v42.56h-1.20zM645.80 340.60h1.20v13.99h-1.20zM647.79 340.60h1.20v9.09h-1.20zM649.78 340.60h1.20v21.83h-1.20zM651.77 340.60h1.20v25.42h-1.20zM653.77 340.60h1.20v23.79h-1.20zM655.76 340.60h1.20v8.28h-1.20zM657.75 340.60h1.20v4.20h-1.20zM699.57 340.60h1.20v1.75h-1.20zM701.56 340.60h1.20v34.40h-1.20zM703.55 340.60h1.20v37.18h-1.20zM705.55 340.60h1.20v43.05h-1.20zM707.54 340.60h1.20v32.77h-1.20zM709.53 340.60h1.20v31.95h-1.20zM711.52 340.60h1.20v22.16h-1.20zM713.51 340.60h1.20v21.83h-1.20zM749.36 340.60h1.20v36.85h-1.20zM751.35 340.60h1.20v31.13h-1.20zM753.34 340.60h1.20v25.42h-1.20zM769.27 340.60h1.20v28.36h-1.20zM771.26 340.60h1.20v52.85h-1.20zM817.07 340.60h1.20v31.13h-1.20zM819.06 340.60h1.20v19.71h-1.20zM821.05 340.60h1.20v33.58h-1.20zM823.04 340.60h1.20v22.48h-1.20zM825.04 340.60h1.20v12.69h-1.20zM827.03 340.60h1.20v2.56h-1.20zM831.01 340.60h1.20v4.20h-1.20zM833.00 340.60h1.20v1.26h-1.20zM862.87 340.60h1.20v16.44h-1.20zM864.87 340.60h1.20v45.01h-1.20zM866.86 340.60h1.20v40.93h-1.20zM868.85 340.60h1.20v75.71h-1.20zM870.84 340.60h1.20v56.77h-1.20zM872.83 340.60h1.20v14.81h-1.20zM874.82 340.60h1.20v13.99h-1.20zM878.81 340.60h1.20v1.75h-1.20zM880.80 340.60h1.20v21.34h-1.20z" fill="#d32a4d"/>
<path d="M48.6 466.5 L50.5 455.9 L53.0 450.5 L55.8 451.8 L57.9 454.3 L60.8 466.2 L62.9 446.1 L64.9 460.3 L66.9 457.6 L68.8 456.7 L70.9 450.2 L73.1 449.4 L74.7 464.6 L76.7 450.2 L78.6 450.5 L80.7 447.3 L82.9 446.6 L84.8 448.9 L86.9 451.3 L88.9 446.6 L91.0 445.6 L93.0 446.9 L95.9 435.5 L98.7 427.7 L100.8 411.8 L102.4 396.3 L104.4 398.0 L106.4 401.2 L108.8 395.5 L110.6 398.3 L112.6 398.3 L114.9 417.6 L116.7 416.2 L118.8 405.3 L120.7 404.5 L122.7 411.3 L124.3 410.2 L126.4 416.2 L128.6 407.4 L130.5 408.6 L132.7 399.3 L134.6 397.6 L136.7 396.8 L138.7 399.3 L140.7 403.7 L142.6 400.4 L144.7 407.4 L146.5 401.2 L148.5 406.9 L150.4 411.0 L152.6 410.2 L154.7 409.4 L156.7 393.9 L158.3 390.1 L160.6 404.8 L162.5 396.0 L164.5 395.5 L166.4 396.7 L168.4 397.1 L169.4 386.5 L170.4 375.4 L172.5 381.3 L174.6 377.6 L176.4 379.8 L177.3 395.1 L179.0 405.7 L180.6 405.4 L182.6 413.6 L184.7 407.3 L186.3 403.3 L188.3 406.5 L190.4 417.1 L192.9 414.7 L195.3 415.2 L196.9 422.0 L198.6 431.0 L201.0 428.2 L204.0 427.3 L206.2 413.9 L207.9 411.9 L210.0 411.9 L212.1 402.8 L214.1 404.4 L216.0 407.3 L218.7 402.8 L220.9 403.8 L223.9 407.3 L226.3 406.5 L228.4 403.3 L231.2 391.0 L234.0 375.5 L236.6 369.0 L238.6 364.9 L240.0 355.4 L242.1 356.2 L244.1 343.2 L248.2 341.2 L249.8 343.5 L251.9 341.2 L253.6 342.8 L255.8 340.6 L258.8 345.1 L261.7 349.7 L264.5 344.0 L266.1 342.3 L267.8 335.0 L270.0 305.0 L271.3 283.6 L272.1 282.3 L273.8 287.7 L275.4 282.8 L277.0 281.9 L279.2 276.2 L280.8 263.2 L281.9 252.9 L283.1 265.6 L284.1 274.6 L285.2 264.0 L287.3 257.8 L289.6 253.4 L291.7 251.7 L293.4 249.3 L295.5 235.4 L297.1 237.0 L298.8 232.1 L299.9 231.0 L301.5 236.2 L303.7 247.7 L305.6 266.9 L307.6 252.9 L309.7 255.0 L311.8 283.6 L313.4 257.1 L315.1 264.0 L317.4 274.6 L319.5 268.9 L321.6 255.8 L323.6 245.2 L325.5 244.4 L327.7 245.7 L329.3 241.4 L331.4 245.2 L333.4 246.0 L335.5 239.5 L337.4 246.8 L339.6 265.9 L341.5 264.8 L343.5 253.4 L345.1 254.2 L347.2 250.9 L349.4 247.7 L351.3 237.9 L353.3 246.8 L354.9 242.8 L357.0 244.4 L358.7 253.4 L360.8 264.8 L361.9 273.0 L363.6 267.2 L365.2 276.2 L367.3 275.4 L369.3 287.7 L371.2 279.5 L373.4 275.4 L375.5 269.7 L377.4 268.9 L379.4 261.5 L381.0 260.7 L383.2 268.9 L384.8 273.0 L386.9 272.1 L389.2 277.0 L391.3 278.7 L393.4 275.7 L395.4 290.1 L397.4 305.0 L398.7 303.2 L400.6 286.8 L402.8 276.2 L404.9 274.1 L406.8 276.2 L408.8 280.3 L410.9 285.2 L412.9 279.7 L414.6 288.7 L416.2 291.1 L418.2 290.3 L420.1 285.4 L421.8 280.5 L423.1 286.2 L425.0 264.2 L426.7 267.4 L428.8 260.1 L430.4 259.3 L432.9 260.9 L434.2 249.5 L435.3 238.9 L436.9 242.6 L438.6 246.2 L441.0 253.6 L443.5 250.8 L445.1 248.7 L446.7 251.1 L448.9 248.2 L450.5 251.9 L452.8 255.2 L454.9 252.8 L457.3 256.0 L459.8 255.2 L461.9 253.6 L463.9 246.2 L465.8 241.0 L467.5 240.0 L469.1 242.1 L470.7 246.2 L472.9 247.9 L475.0 246.6 L476.9 247.5 L478.9 256.0 L481.0 254.4 L482.7 260.1 L484.8 263.4 L486.7 264.2 L489.2 261.7 L490.8 263.4 L492.9 268.3 L494.9 269.1 L497.3 271.5 L499.5 274.0 L501.8 273.2 L503.4 278.9 L505.0 292.8 L506.7 287.0 L508.3 289.5 L510.4 286.7 L512.0 290.3 L514.2 291.9 L515.8 283.8 L517.4 280.5 L519.4 280.5 L521.3 284.6 L523.0 296.8 L524.6 308.3 L526.2 314.0 L528.9 305.8 L530.5 315.0 L532.4 310.7 L534.4 306.6 L536.5 308.3 L538.7 309.1 L540.6 306.6 L542.6 300.1 L544.7 289.5 L546.6 267.5 L548.2 270.0 L550.4 274.9 L552.5 272.9 L554.8 260.2 L556.4 261.0 L558.5 254.4 L560.2 255.6 L561.8 261.0 L563.9 265.9 L565.9 266.7 L567.8 258.5 L569.1 254.9 L571.1 254.4 L573.2 253.6 L574.9 260.2 L577.0 264.2 L578.6 270.0 L580.2 268.3 L581.9 281.4 L583.5 290.4 L585.1 296.1 L586.8 309.1 L588.4 328.7 L590.4 318.9 L592.0 322.2 L593.6 301.0 L594.9 287.1 L596.6 290.4 L598.2 290.4 L600.2 301.8 L601.8 299.3 L603.8 292.8 L605.4 299.3 L607.5 308.3 L609.5 302.6 L611.6 298.5 L613.6 301.8 L615.7 299.3 L617.8 300.2 L619.8 292.8 L621.1 290.4 L622.7 291.2 L624.3 274.9 L626.3 273.2 L628.2 273.6 L629.9 278.1 L631.5 290.4 L633.1 298.5 L635.3 300.2 L636.9 299.3 L639.0 300.2 L641.0 304.2 L642.3 310.0 L643.9 301.0 L645.6 308.3 L647.5 306.7 L649.5 312.4 L651.1 320.6 L652.7 330.4 L654.4 328.7 L656.5 320.6 L658.1 311.6 L660.2 308.3 L662.2 309.1 L664.2 303.4 L666.3 293.6 L668.4 296.1 L670.0 301.8 L672.0 305.9 L673.7 294.9 L675.8 285.0 L677.8 279.9 L680.2 277.4 L682.7 276.3 L685.1 276.6 L687.3 273.4 L689.6 278.3 L691.2 270.9 L693.3 266.0 L695.4 264.9 L697.7 266.5 L699.8 276.6 L701.5 287.2 L703.1 291.7 L705.6 291.3 L707.5 285.6 L709.6 284.0 L711.8 280.7 L713.7 283.2 L716.2 284.8 L718.3 291.3 L719.9 293.0 L721.1 286.4 L722.7 280.7 L724.8 279.1 L726.4 271.7 L728.1 263.6 L730.0 257.9 L732.5 257.0 L734.1 256.7 L735.8 252.5 L737.9 252.1 L739.5 250.2 L741.1 253.4 L742.8 257.9 L744.7 259.0 L746.4 259.5 L748.0 254.1 L749.6 261.1 L751.6 259.5 L753.7 255.4 L755.3 247.2 L757.0 234.2 L758.6 232.6 L760.2 234.2 L761.9 242.3 L763.5 246.4 L765.6 248.9 L767.6 251.3 L769.6 255.1 L771.2 251.3 L772.5 235.8 L773.8 220.3 L775.8 218.7 L777.7 216.2 L779.8 215.4 L781.0 206.4 L781.8 198.3 L782.1 185.0 L782.8 173.4 L783.8 165.2 L784.9 170.1 L786.5 166.8 L787.7 161.9 L789.3 171.7 L790.9 163.6 L792.2 159.0 L794.2 161.1 L795.8 162.8 L798.0 159.5 L800.1 153.8 L802.0 145.6 L803.7 134.2 L805.3 132.2 L806.9 135.0 L808.2 134.2 L809.9 135.5 L811.5 148.9 L813.1 155.1 L814.8 147.2 L815.9 142.3 L817.6 143.2 L819.7 137.8 L821.3 139.9 L823.3 138.3 L825.2 142.3 L827.3 142.3 L829.5 134.2 L831.1 138.3 L833.1 130.1 L835.0 128.5 L837.1 125.2 L838.8 134.2 L840.9 139.1 L842.0 134.2 L843.7 125.2 L845.3 127.7 L846.9 125.2 L849.1 124.1 L850.7 116.2 L852.7 110.0 L854.3 109.4 L855.6 109.7 L856.7 119.5 L858.4 130.1 L859.5 136.6 L861.6 135.8 L863.3 137.8 L864.9 143.2 L866.5 145.6 L868.2 143.2 L869.8 132.2 L871.4 131.2 L873.1 139.9 L874.7 146.4 L876.3 144.8 L877.5 144.0 L879.1 148.1 L881.2 152.1 L882.9 147.6" fill="none" stroke="#000" stroke-width="1.32" stroke-linejoin="round" stroke-linecap="round"/>
<path d="M48.4 61.3V502.3H931.6V61.3" fill="none" stroke="#4d4d4d" stroke-width="0.95"/>
<path d="M45.4 68.7H48.4" stroke="#777" stroke-width="0.8"/>
<text transform="translate(44.1 71.5) scale(0.944 1)" font-size="7.9" fill="#333" text-anchor="end">$120k</text>
<path d="M45.4 97.1H48.4" stroke="#777" stroke-width="0.8"/>
<text transform="translate(44.1 99.9) scale(0.944 1)" font-size="7.9" fill="#333" text-anchor="end">$110k</text>
<path d="M45.4 128.2H48.4" stroke="#777" stroke-width="0.8"/>
<text transform="translate(44.1 131.0) scale(0.944 1)" font-size="7.9" fill="#333" text-anchor="end">$100k</text>
<path d="M45.4 162.6H48.4" stroke="#777" stroke-width="0.8"/>
<text transform="translate(44.1 165.4) scale(0.944 1)" font-size="7.9" fill="#333" text-anchor="end">$90k</text>
<path d="M45.4 201.1H48.4" stroke="#777" stroke-width="0.8"/>
<text transform="translate(44.1 203.9) scale(0.944 1)" font-size="7.9" fill="#333" text-anchor="end">$80k</text>
<path d="M45.4 244.6H48.4" stroke="#777" stroke-width="0.8"/>
<text transform="translate(44.1 247.4) scale(0.944 1)" font-size="7.9" fill="#333" text-anchor="end">$70k</text>
<path d="M45.4 295.0H48.4" stroke="#777" stroke-width="0.8"/>
<text transform="translate(44.1 297.8) scale(0.944 1)" font-size="7.9" fill="#333" text-anchor="end">$60k</text>
<path d="M45.4 354.5H48.4" stroke="#777" stroke-width="0.8"/>
<text transform="translate(44.1 357.3) scale(0.944 1)" font-size="7.9" fill="#333" text-anchor="end">$50k</text>
<path d="M45.4 427.3H48.4" stroke="#777" stroke-width="0.8"/>
<text transform="translate(44.1 430.1) scale(0.944 1)" font-size="7.9" fill="#333" text-anchor="end">$40k</text>
<path d="M931.6 106.3H934.6" stroke="#555" stroke-width="0.8"/>
<text transform="translate(936.2 108.9) scale(0.906 1)" font-size="7.9" fill="#333">$20B</text>
<path d="M931.6 164.8H934.6" stroke="#555" stroke-width="0.8"/>
<text transform="translate(936.2 167.4) scale(0.906 1)" font-size="7.9" fill="#333">$15B</text>
<path d="M931.6 223.3H934.6" stroke="#555" stroke-width="0.8"/>
<text transform="translate(936.2 225.9) scale(0.906 1)" font-size="7.9" fill="#333">$10B</text>
<path d="M931.6 282.0H934.6" stroke="#555" stroke-width="0.8"/>
<text transform="translate(936.2 284.6) scale(0.906 1)" font-size="7.9" fill="#333">$5B</text>
<path d="M931.6 340.4H934.6" stroke="#555" stroke-width="0.8"/>
<text transform="translate(936.2 343.0) scale(0.906 1)" font-size="7.9" fill="#333">$0</text>
<path d="M931.6 399.0H934.6" stroke="#555" stroke-width="0.8"/>
<text transform="translate(936.2 401.6) scale(0.906 1)" font-size="7.9" fill="#333">$−5B</text>
<path d="M931.6 457.2H934.6" stroke="#555" stroke-width="0.8"/>
<text transform="translate(936.2 459.8) scale(0.906 1)" font-size="7.9" fill="#333">$−10B</text>
<path d="M154.5 502.3V505.4" stroke="#444" stroke-width="0.8"/>
<text transform="translate(154.5 513.9) scale(0.917 1)" font-size="7.9" fill="#333" text-anchor="middle">Jan 2024</text>
<path d="M274.2 502.3V505.4" stroke="#444" stroke-width="0.8"/>
<text transform="translate(274.2 513.9) scale(0.917 1)" font-size="7.9" fill="#333" text-anchor="middle">Mar 2024</text>
<path d="M395.4 502.3V505.4" stroke="#444" stroke-width="0.8"/>
<text transform="translate(395.4 513.9) scale(0.917 1)" font-size="7.9" fill="#333" text-anchor="middle">May 2024</text>
<path d="M516.9 502.3V505.4" stroke="#444" stroke-width="0.8"/>
<text transform="translate(516.9 513.9) scale(0.917 1)" font-size="7.9" fill="#333" text-anchor="middle">Jul 2024</text>
<path d="M640.0 502.3V505.4" stroke="#444" stroke-width="0.8"/>
<text transform="translate(640.0 513.9) scale(0.917 1)" font-size="7.9" fill="#333" text-anchor="middle">Sep 2024</text>
<path d="M761.8 502.3V505.4" stroke="#444" stroke-width="0.8"/>
<text transform="translate(761.8 513.9) scale(0.917 1)" font-size="7.9" fill="#333" text-anchor="middle">Nov 2024</text>
<path d="M883.4 502.3V505.4" stroke="#444" stroke-width="0.8"/>
<text transform="translate(883.4 513.9) scale(0.917 1)" font-size="7.9" fill="#333" text-anchor="middle">Jan 2025</text>
<text transform="translate(8.5 291.2) rotate(-90)" font-size="9.2" fill="#333" textLength="19.4" lengthAdjust="spacingAndGlyphs">Price</text>
<text transform="translate(971.6 318.2) rotate(-90)" font-size="9.3" fill="#333" textLength="72.2" lengthAdjust="spacingAndGlyphs">Open Interest Delta</text>
<path d="M61.3 74.4H78.5" stroke="#000" stroke-width="1.3"/>
<text x="82.6" y="76.8" font-size="7" fill="#222">Price</text>
<rect x="65.9" y="82.4" width="8.2" height="7.8" fill="#7f7f7f"/>
<text x="82.6" y="88.8" font-size="7" fill="#b0b0b0" textLength="15.5" lengthAdjust="spacingAndGlyphs">Daily</text>
<rect x="65.9" y="93.8" width="8.2" height="7.8" fill="#1a9b79"/>
<text x="82.6" y="100.1" font-size="7" fill="#1c1c1c" textLength="20.9" lengthAdjust="spacingAndGlyphs">7 days</text>
<rect x="65.9" y="105.6" width="8.2" height="7.8" fill="#7f7f7f"/>
<text x="82.6" y="112.0" font-size="7" fill="#b0b0b0" textLength="24.8" lengthAdjust="spacingAndGlyphs">30 days</text>
<rect x="65.9" y="117.1" width="8.2" height="7.8" fill="#7f7f7f"/>
<text x="82.6" y="123.5" font-size="7" fill="#b0b0b0" textLength="24.8" lengthAdjust="spacingAndGlyphs">90 days</text>
<rect x="65.9" y="128.9" width="8.2" height="7.8" fill="#7f7f7f"/>
<text x="82.6" y="135.2" font-size="7" fill="#b0b0b0" textLength="29.0" lengthAdjust="spacingAndGlyphs">180 days</text>
<rect x="65.9" y="140.3" width="8.2" height="7.8" fill="#7f7f7f"/>
<text x="82.6" y="146.7" font-size="7" fill="#b0b0b0" textLength="29.0" lengthAdjust="spacingAndGlyphs">365 days</text>
<text x="50" y="543" font-size="5.3" fill="#adb1b8" textLength="85.5" lengthAdjust="spacingAndGlyphs">Update: 2024-12-31 12:13:29 (UTC)</text>
<g transform="translate(818 508) scale(0.05814)"><path d="M330 130C450 98 550 160 516 242C492 298 440 310 400 296" stroke="#4448dc" stroke-width="56" fill="none"/><path d="M120 478L192 478L306 112L238 103Z" fill="#2a34b0"/><path d="M238 103L325 103L450 478L378 440L252 150Z" fill="#2a34b0"/><path d="M215 300L340 300L352 350L200 350Z" fill="#2a34b0"/></g>
<text x="852" y="531.9" font-size="17" fill="#333" textLength="87" lengthAdjust="spacingAndGlyphs">Alphractal</text>
<text x="853.8" y="542.8" font-size="5" fill="#a9b0c4" textLength="76" lengthAdjust="spacingAndGlyphs">© Alphractal All rights reserved</text>
</svg></div></body></html>
